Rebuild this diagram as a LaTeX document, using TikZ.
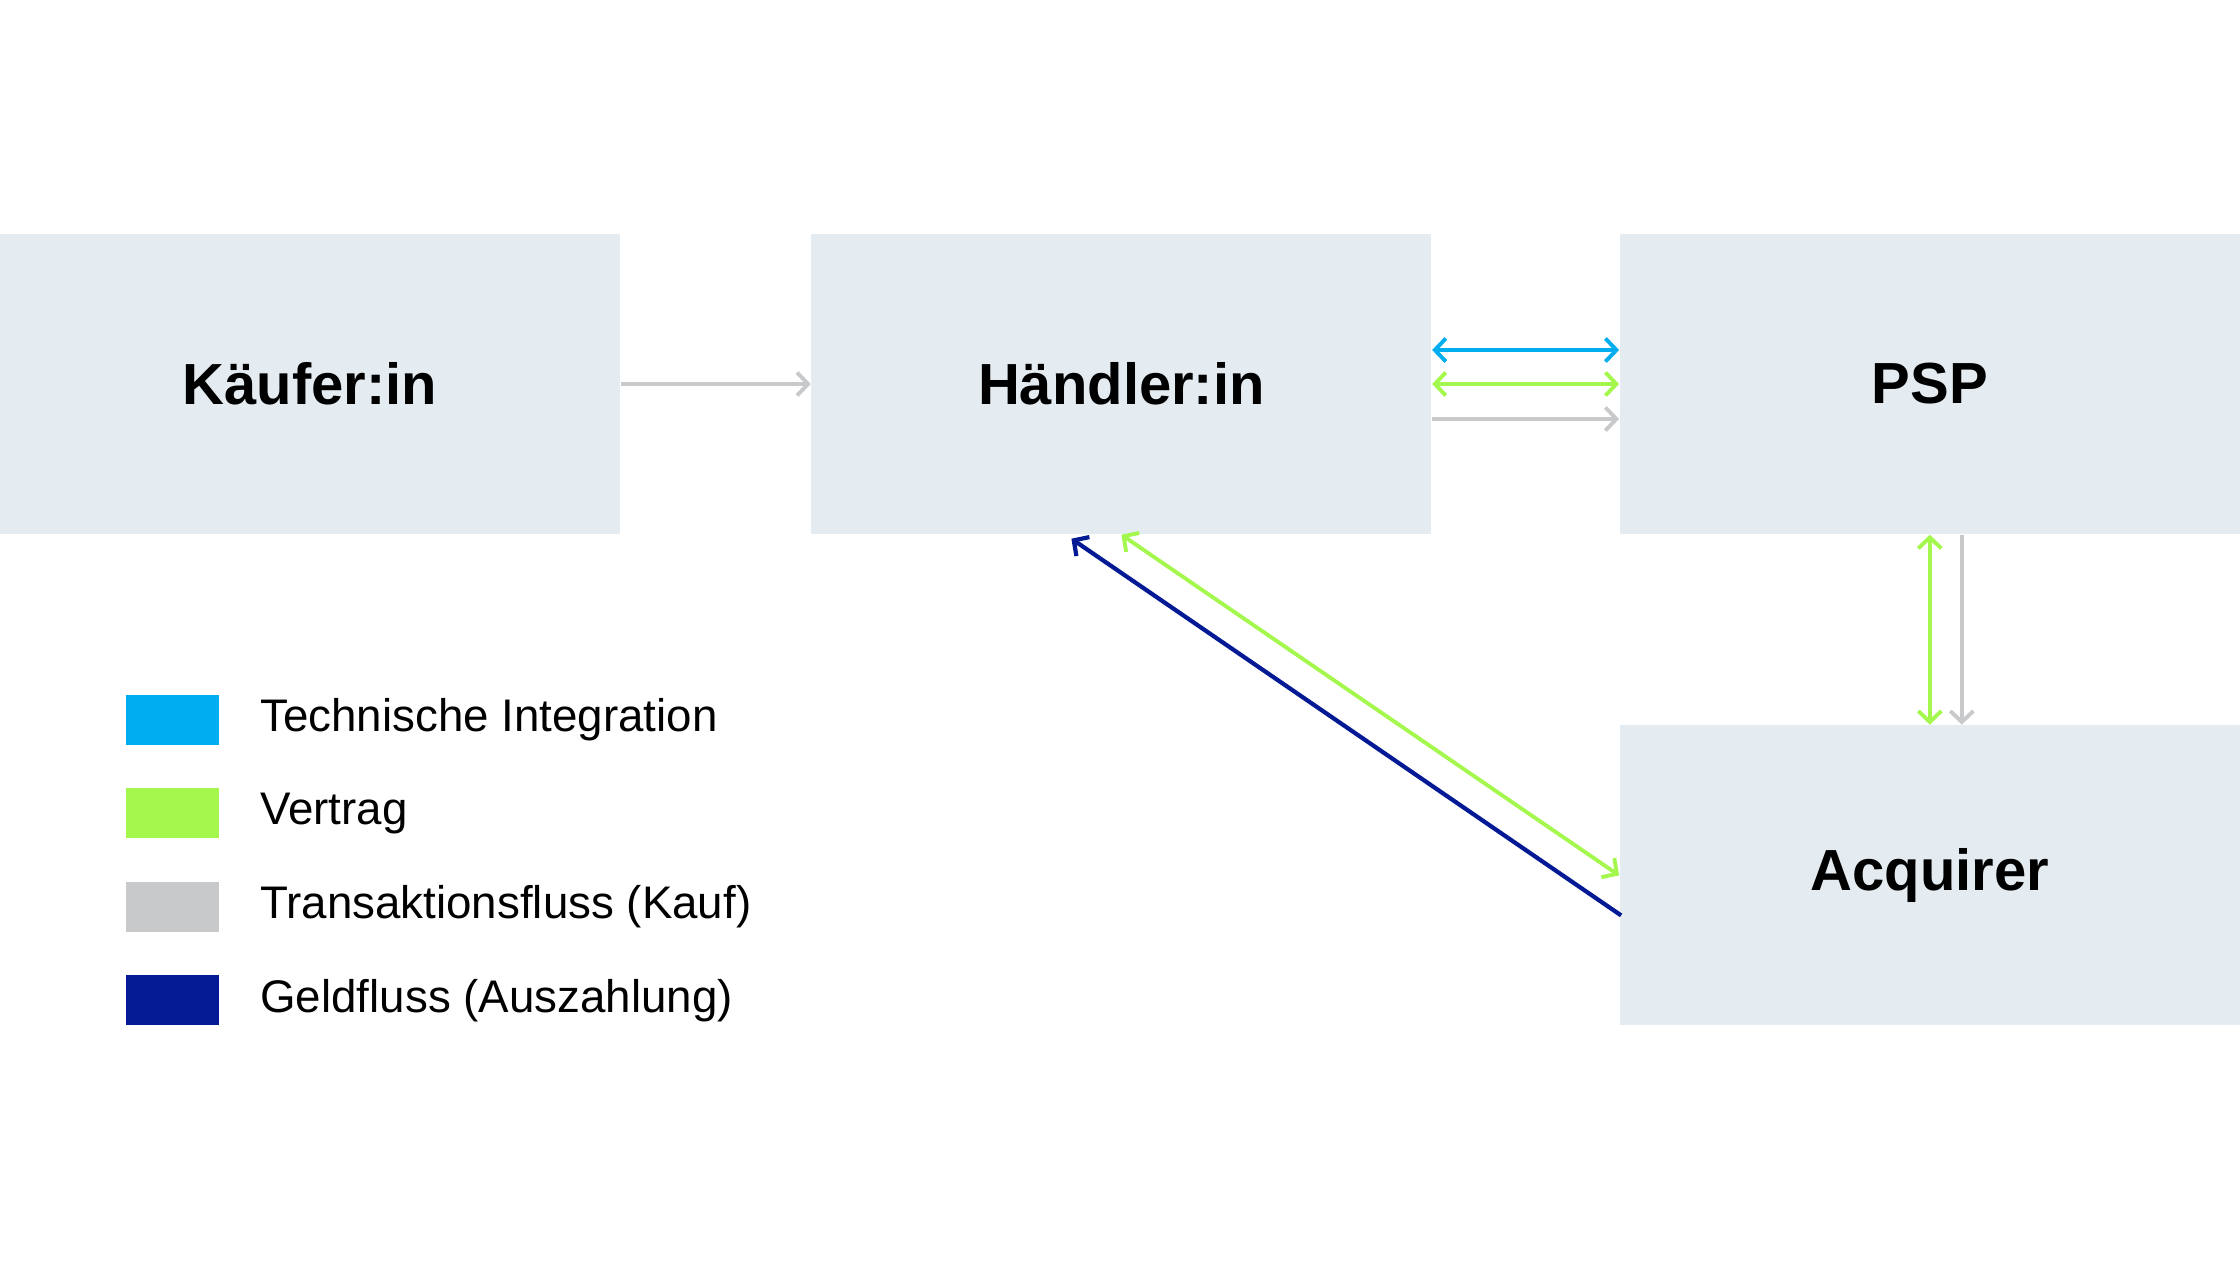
\documentclass[tikz,border=0pt]{standalone}
\usepackage{fontspec}
\setmainfont{Liberation Sans}
\usepackage{tikz}
\usetikzlibrary{arrows.meta,calc,positioning}
\definecolor{BoxGrey}{RGB}{228,236,241}
\definecolor{TechBlue}{RGB}{0,174,239}
\definecolor{DealGreen}{RGB}{163,247,77}
\definecolor{FlowGrey}{RGB}{200,201,203}
\definecolor{MoneyBlue}{RGB}{3,26,148}
\tikzset{
  party/.style={fill=BoxGrey,minimum width=6.2cm,minimum height=3cm,
    inner sep=0pt,font=\fontsize{16.5}{20}\selectfont\bfseries},
  flow/.style={line width=1.1pt,-{Straight Barb[length=1.1mm,width=2.3mm]}},
  both/.style={line width=1.1pt,{Straight Barb[length=1.1mm,width=2.3mm]}-{Straight Barb[length=1.1mm,width=2.3mm]}},
  keybox/.style={minimum width=0.93cm,minimum height=0.5cm,inner sep=0pt},
  keytext/.style={anchor=west,inner sep=0pt,font=\fontsize{13}{16}\selectfont}
}

\begin{document}
\begin{tikzpicture}
      \useasboundingbox (0,0) rectangle (22.4,12.6);
      \node[party] (kaeufer) at (3.1,8.76) {Käufer:in};
      \node[party,right=1.9cm of kaeufer] (haendler) {Händler:in};
      \node[party,right=1.87cm of haendler] (psp) {PSP};
      \node[party,below=1.9cm of psp] (acquirer) {Acquirer};
      \draw[flow,FlowGrey] (kaeufer)--(haendler);
      \draw[both,TechBlue] ($(haendler.east)+(0,0.34)$)--($(psp.west)+(0,0.34)$);
      \draw[both,DealGreen] (haendler.east)--(psp.west);
      \draw[flow,FlowGrey] ($(haendler.east)+(0,-0.35)$)--($(psp.west)+(0,-0.35)$);
      \draw[both,DealGreen] (psp.south)--(acquirer.north);
      \draw[flow,FlowGrey] ($(psp.south)+(0.32,0)$)--($(acquirer.north)+(0.32,0)$);
      \draw[both,DealGreen] (haendler.south)--(acquirer.west);
      \draw[flow,MoneyBlue,line width=1.2pt] ($(acquirer.west)+(0.02,-0.4)$)
        --($(haendler.south)+(-0.5,-0.04)$);
      % legend
      \node[keybox,fill=TechBlue] (keytech) at (1.725,5.4) {};
      \node[keytext,right=0.4cm of keytech] {Technische Integration};
      \node[keybox,fill=DealGreen,below=0.42cm of keytech] (keydeal) {};
      \node[keytext,right=0.4cm of keydeal] {Vertrag};
      \node[keybox,fill=FlowGrey,below=0.42cm of keydeal] (keyflow) {};
      \node[keytext,right=0.4cm of keyflow] {Transaktionsfluss (Kauf)};
      \node[keybox,fill=MoneyBlue,below=0.42cm of keyflow] (keymoney) {};
      \node[keytext,right=0.4cm of keymoney] {Geldfluss (Auszahlung)};
    \end{tikzpicture}
\end{document}
